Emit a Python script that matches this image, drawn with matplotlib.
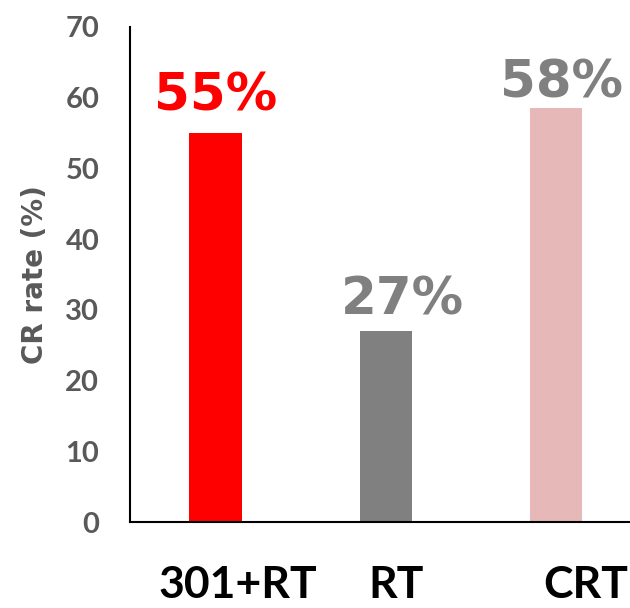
import matplotlib
matplotlib.use("Agg")
import matplotlib.pyplot as plt
from matplotlib.transforms import ScaledTranslation

# chart data
groups = ["301+RT", "RT", "CRT"]
cr_rate = [55, 27, 58.5]
value_labels = ["55%", "27%", "58%"]
bar_colors = ["#FF0000", "#808080", "#E6B8B7"]
label_colors = ["#FF0000", "#808080", "#808080"]
yticks = [0, 10, 20, 30, 40, 50, 60, 70]

fig = plt.figure(figsize=(6.3, 6.08), dpi=100)
ax = fig.add_axes([0.206, 0.1414, 0.794, 0.8142])

x = list(range(len(groups)))
ax.bar(x, cr_rate, width=0.31, color=bar_colors)

# value labels above the bars (small nudges like the original)
nudges = [(0, 8), (12, 4), (4, 0)]
for xi, v, txt, c, (dx, dy) in zip(x, cr_rate, value_labels, label_colors, nudges):
    ax.annotate(txt, (xi, v), xytext=(dx, dy), textcoords="offset points",
                ha="center", va="bottom", fontsize=37, fontweight="bold",
                color=c, family="DejaVu Sans")

ax.set_xlim(-0.506, 2.435)
ax.set_ylim(0, 70)
ax.set_yticks(yticks)
ax.set_yticklabels([str(t) for t in yticks], fontsize=21, fontweight="bold",
                   color="#595959", family="Lato")
ax.tick_params(axis="y", length=0, pad=22)
ax.set_xticks(x)
ax.set_xticklabels(groups, fontsize=32, fontweight="bold", color="black", family="Lato")
ax.tick_params(axis="x", length=0, pad=31)

# shift x labels sideways a bit, as in the source
shifts = [22, 10, 30]
for lab, s in zip(ax.get_xticklabels(), shifts):
    lab.set_transform(lab.get_transform() + ScaledTranslation(s / 100, 0, fig.dpi_scale_trans))

ax.set_ylabel("CR rate (%)", fontsize=20, fontweight="bold", color="#595959",
              family="DejaVu Sans", labelpad=12)

for side in ["top", "right"]:
    ax.spines[side].set_visible(False)
ax.spines["left"].set_linewidth(1.5)
ax.spines["bottom"].set_linewidth(1.5)

fig.savefig("out.png", dpi=100)
